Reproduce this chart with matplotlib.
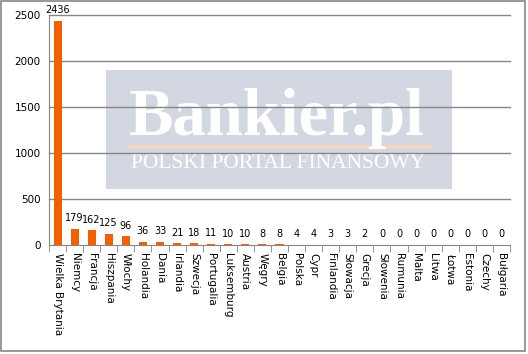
import numpy as np
import matplotlib as mpl
mpl.use('Agg')
import matplotlib.pyplot as plt
from matplotlib.patches import Rectangle

countries = ['Wielka Brytania', 'Niemcy', 'Francja', 'Hiszpania', 'Włochy',
             'Holandia', 'Dania', 'Irlandia', 'Szwecja', 'Portugalia',
             'Luksemburg', 'Austria', 'Węgry', 'Belgia', 'Polska', 'Cypr',
             'Finlandia', 'Słowacja', 'Grecja', 'Słowenia', 'Rumunia', 'Malta',
             'Litwa', 'Łotwa', 'Estonia', 'Czechy', 'Bułgaria']
values = [2436, 179, 162, 125, 96, 36, 33, 21, 18, 11, 10, 10, 8, 8, 4, 4,
          3, 3, 2, 0, 0, 0, 0, 0, 0, 0, 0]
yticks = [0, 500, 1000, 1500, 2000, 2500]

bar_color = '#F26000'
grid_color = '#868686'

fig = plt.figure(figsize=(5.28, 3.54), dpi=100)
W, H = 528, 354
ax = fig.add_axes([49 / W, 1 - 245 / H, (510 - 49) / W, (245 - 15) / H])

x = np.arange(len(countries))
ax.bar(x, values, width=0.47, color=bar_color, zorder=3)

# value labels above bars
for xi, v in zip(x, values):
    ax.annotate(str(v), (xi, v), xytext=(0, 4), textcoords='offset points',
                ha='center', va='bottom', fontsize=7, zorder=4)

ax.set_xlim(-0.5, len(countries) - 0.5)
ax.set_ylim(0, 2500)
ax.set_yticks(yticks)
ax.set_yticklabels([str(t) for t in yticks], fontsize=7.5)
# gridlines drawn explicitly so they sit over the watermark
for t in yticks[1:]:
    ax.axhline(t, color=grid_color, linewidth=1, zorder=2, clip_on=False)
ax.tick_params(axis='y', length=0, pad=6)

# category labels, tick marks on boundaries
ax.set_xticks(x)
ax.set_xticklabels(countries, rotation=270, fontsize=7.5, va='top', ha='center')
ax.tick_params(axis='x', which='major', length=0, pad=6)
ax.set_xticks(np.arange(-0.5, len(countries)), minor=True)
ax.tick_params(axis='x', which='minor', length=5, color=grid_color, direction='out')

for s in ['top', 'right']:
    ax.spines[s].set_visible(False)
for s in ['left', 'bottom']:
    ax.spines[s].set_color(grid_color)

# watermark (behind gridlines)
ax.add_patch(Rectangle((106 / W, 1 - 189 / H), (452 - 106) / W, (189 - 70) / H,
                       transform=fig.transFigure, color='#D3D7E1', zorder=0.5, lw=0))
ax.add_patch(Rectangle((129 / W, 1 - 149 / H), (432 - 129) / W, 4 / H,
                       transform=fig.transFigure, color='#F5D6C0', lw=0, zorder=0.6))
ax.text(277 / W, 1 - 135 / H, 'Bankier.pl', color='white', fontsize=48,
        family='Liberation Serif', weight='bold', ha='center', va='baseline',
        transform=fig.transFigure, zorder=0.7)
ax.text(278 / W, 1 - 168 / H, 'POLSKI PORTAL FINANSOWY', color='white',
        fontsize=15.5, family='Liberation Serif', ha='center', va='baseline',
        transform=fig.transFigure, zorder=0.7)

# outer frame
fig.add_artist(Rectangle((1 / W, 3 / H), 524 / W, 350 / H, transform=fig.transFigure,
                         fill=False, edgecolor=grid_color, lw=1.2))

fig.savefig('out.png', dpi=100)
